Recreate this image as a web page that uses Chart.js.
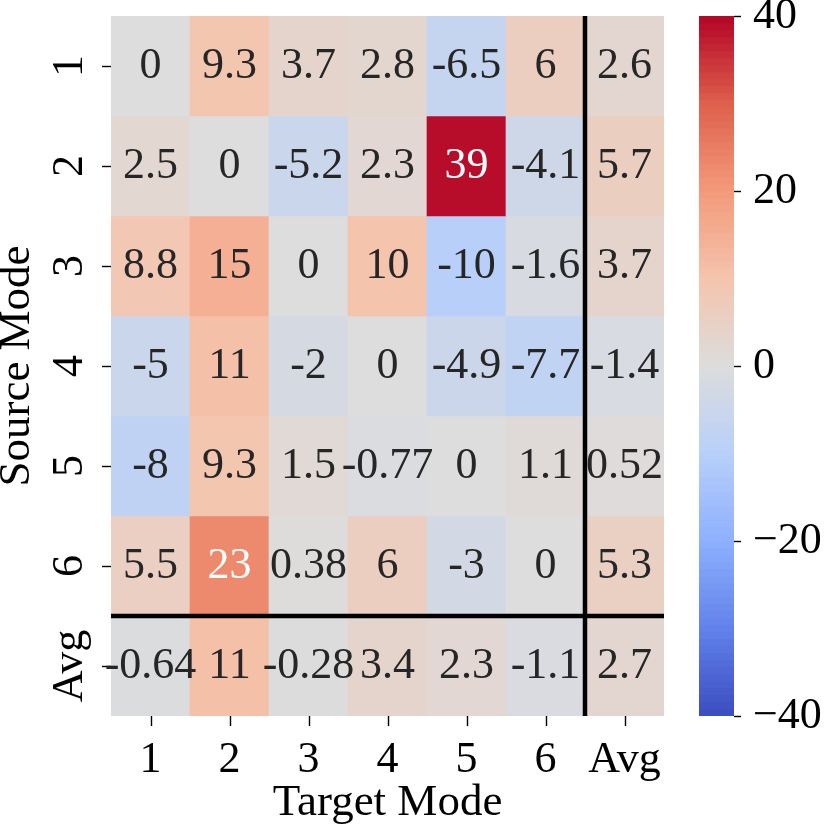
<!DOCTYPE html>
<html>
<head>
<meta charset="utf-8">
<script src="https://cdn.jsdelivr.net/npm/chart.js@4.4.1/dist/chart.umd.min.js"></script>
<style>
  html, body { margin: 0; padding: 0; background: #fff; }
  #wrap { position: relative; width: 830px; height: 828px; }
  #wrap canvas { position: absolute; left: 0; top: 0; }
</style>
</head>
<body>
<div id="wrap">
  <canvas id="heatmap" width="830" height="828"></canvas>
  <canvas id="colorbar" width="830" height="828"></canvas>
</div>
<script>
const targetModes = ['1', '2', '3', '4', '5', '6', 'Avg'];
const sourceModes = ['1', '2', '3', '4', '5', '6', 'Avg'];

// one row per source mode, columns = target modes (last column / row = averages)
const source1 = [0, 9.3, 3.7, 2.8, -6.5, 6, 2.6];
const source2 = [2.5, 0, -5.2, 2.3, 39, -4.1, 5.7];
const source3 = [8.8, 15, 0, 10, -10, -1.6, 3.7];
const source4 = [-5, 11, -2, 0, -4.9, -7.7, -1.4];
const source5 = [-8, 9.3, 1.5, -0.77, 0, 1.1, 0.52];
const source6 = [5.5, 23, 0.38, 6, -3, 0, 5.3];
const sourceAvg = [-0.64, 11, -0.28, 3.4, 2.3, -1.1, 2.7];
const rows = [source1, source2, source3, source4, source5, source6, sourceAvg];

const vmin = -40;
const vmax = 40;
const cbStep = 20;

const FONT = '"Liberation Serif", "Times New Roman", serif';

// matplotlib coolwarm, sampled every 1/8
const coolwarmStops = [
  [0.2298, 0.2987, 0.7537],
  [0.3830, 0.5094, 0.9174],
  [0.5530, 0.6889, 0.9954],
  [0.7222, 0.8140, 0.9766],
  [0.8654, 0.8654, 0.8654],
  [0.9589, 0.7698, 0.6780],
  [0.9580, 0.6028, 0.4818],
  [0.8692, 0.3783, 0.3003],
  [0.7057, 0.0156, 0.1502]
];

function coolwarmRGB(v) {
  let t = (v - vmin) / (vmax - vmin);
  t = Math.min(1, Math.max(0, t)) * (coolwarmStops.length - 1);
  const i = Math.min(Math.floor(t), coolwarmStops.length - 2);
  const f = t - i;
  const a = coolwarmStops[i], b = coolwarmStops[i + 1];
  return a.map((c, k) => c + (b[k] - c) * f);
}

function coolwarm(v) {
  const c = coolwarmRGB(v).map(x => Math.round(x * 255));
  return 'rgb(' + c.join(',') + ')';
}

// same rule seaborn uses to pick annotation colour
function textColor(v) {
  const lin = coolwarmRGB(v).map(c => c <= 0.03928 ? c / 12.92 : Math.pow((c + 0.055) / 1.055, 2.4));
  const lum = 0.2126 * lin[0] + 0.7152 * lin[1] + 0.0722 * lin[2];
  return lum > 0.408 ? '#262626' : '#ffffff';
}

const annotate = {
  id: 'annotate',
  afterDatasetsDraw(chart) {
    const ctx = chart.ctx;
    const area = chart.chartArea;
    ctx.save();
    ctx.font = '44px ' + FONT;
    ctx.textAlign = 'center';
    ctx.textBaseline = 'middle';
    chart.data.datasets.forEach((ds, i) => {
      chart.getDatasetMeta(i).data.forEach((bar, j) => {
        const p = bar.getProps(['x', 'y', 'base'], true);
        ctx.fillStyle = textColor(ds.values[j]);
        ctx.fillText(String(ds.values[j]), p.x, (p.y + p.base) / 2);
      });
    });
    // black separators in front of the Avg column / row
    const xs = chart.scales.x, ys = chart.scales.y;
    const vx = (xs.getPixelForValue(5) + xs.getPixelForValue(6)) / 2;
    const hy = ys.getPixelForValue(6);
    ctx.strokeStyle = '#000';
    ctx.lineWidth = 4.5;
    ctx.beginPath();
    ctx.moveTo(vx, area.top);
    ctx.lineTo(vx, area.bottom);
    ctx.moveTo(area.left, hy);
    ctx.lineTo(area.right, hy);
    ctx.stroke();
    // x tick marks sit under the cell centres
    ctx.lineWidth = 1.4;
    ctx.beginPath();
    xs.ticks.forEach((t, i) => {
      const px = Math.round(xs.getPixelForTick(i)) + 0.5;
      ctx.moveTo(px, area.bottom);
      ctx.lineTo(px, area.bottom + 10);
    });
    ctx.stroke();
    ctx.restore();
  }
};

new Chart(document.getElementById('heatmap'), {
  type: 'bar',
  data: {
    labels: targetModes,
    datasets: rows.map((vals, r) => ({
      label: sourceModes[r],
      data: vals.map(() => [r, r + 1]),
      values: vals,
      backgroundColor: vals.map(coolwarm),
      borderWidth: 0,
      barPercentage: 1,
      categoryPercentage: 1,
      grouped: false
    }))
  },
  options: {
    responsive: false,
    animation: false,
    layout: { padding: { left: 0, top: 16, right: 166, bottom: 0 } },
    plugins: { legend: { display: false }, tooltip: { enabled: false } },
    scales: {
      x: {
        type: 'category',
        afterFit: s => { s.height = 112; s.paddingLeft = 0; s.paddingRight = 0; },
        ticks: { font: { family: FONT, size: 44 }, color: '#000', padding: 10, maxRotation: 0 },
        grid: { display: false },
        border: { display: false },
        title: {
          display: true, text: 'Target Mode', color: '#000',
          font: { family: FONT, size: 45, lineHeight: 1 }, padding: { top: 0, bottom: 2.5 }
        }
      },
      y: {
        type: 'linear', min: 0, max: sourceModes.length, reverse: true,
        afterBuildTicks: s => { s.ticks = sourceModes.map((_, i) => ({ value: i + 0.5 })); },
        afterFit: s => { s.width = 111; s.paddingTop = 0; s.paddingBottom = 0; },
        ticks: {
          callback: v => sourceModes[Math.floor(v)],
          font: { family: FONT, size: 44 }, color: '#000',
          minRotation: 90, maxRotation: 90, crossAlign: 'center', padding: -5, autoSkip: false
        },
        grid: { drawOnChartArea: false, tickLength: 9, color: '#000', tickWidth: 1.4 },
        border: { display: false },
        title: {
          display: true, text: 'Source Mode', color: '#000',
          font: { family: FONT, size: 45, lineHeight: 0.76 }, padding: 0
        }
      }
    }
  },
  plugins: [annotate]
});

// colour bar: stacked thin floating bars on the value axis
const cbSegment = 0.8;
const cbBars = [];
for (let v = vmin; v < vmax - 1e-9; v += cbSegment) cbBars.push([v, v + cbSegment]);

new Chart(document.getElementById('colorbar'), {
  type: 'bar',
  data: {
    labels: ['cb'],
    datasets: [{
      data: cbBars.map(b => ({ x: 'cb', y: b })),
      backgroundColor: cbBars.map(b => coolwarm((b[0] + b[1]) / 2)),
      borderWidth: 0,
      barPercentage: 1,
      categoryPercentage: 1
    }]
  },
  options: {
    responsive: false,
    animation: false,
    layout: { padding: { left: 699, top: 16, right: 0, bottom: 112 } },
    plugins: { legend: { display: false }, tooltip: { enabled: false } },
    scales: {
      x: { type: 'category', display: false },
      y: {
        type: 'linear', position: 'right', min: vmin, max: vmax,
        afterFit: s => { s.width = 96; s.paddingTop = 0; s.paddingBottom = 0; },
        ticks: {
          stepSize: cbStep,
          callback: v => (v < 0 ? '\u2212' + Math.abs(v) : String(v)),
          font: { family: FONT, size: 44 }, color: '#000', padding: 12
        },
        grid: { drawOnChartArea: false, tickLength: 7, color: '#000', tickWidth: 1.4 },
        border: { display: false }
      }
    }
  }
});
</script>
</body>
</html>
